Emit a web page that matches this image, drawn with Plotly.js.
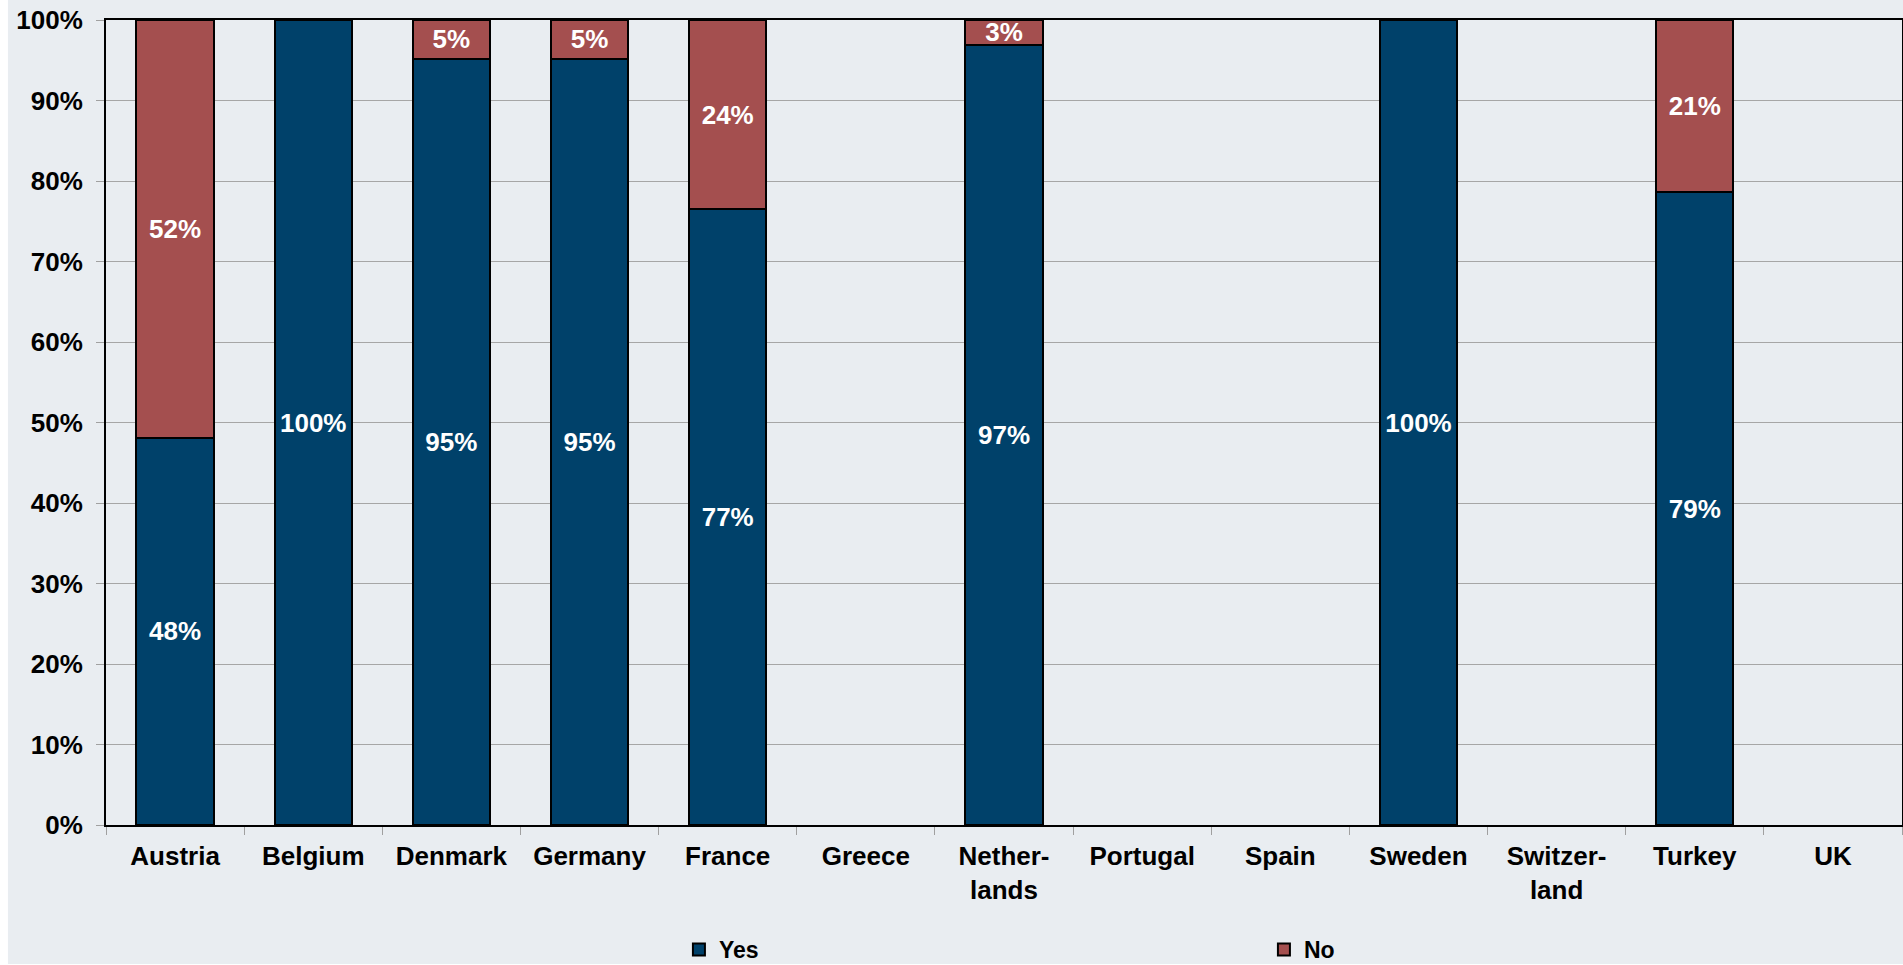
<!DOCTYPE html>
<html><head><meta charset="utf-8">
<script src="https://cdn.plot.ly/plotly-3.0.1.min.js"></script>
<style>html,body{margin:0;padding:0;background:#fff;}#chart{width:1903px;height:965px;}</style>
</head><body><div id="chart"></div>
<script>
const categories = ["Austria","Belgium","Denmark","Germany","France","Greece","Nether-<br>lands","Portugal","Spain","Sweden","Switzer-<br>land","Turkey","UK"];
const yesValues = [48.1, 100, 95.2, 95.2, 76.5, null, 96.9, null, null, 100, null, 78.6, null];
const noValues  = [51.9, null, 4.8, 4.8, 23.5, null, 3.1, null, null, null, null, 21.4, null];
const yesLabels = ["48%","100%","95%","95%","77%","","97%","","","100%","","79%",""];
const noLabels  = ["52%","","5%","5%","24%","","3%","","","","","21%",""];
const yTickVals = [0,10,20,30,40,50,60,70,80,90,100];
const yTickText = ["0%","10%","20%","30%","40%","50%","60%","70%","80%","90%","100%"];

const font = "Liberation Sans, Arial, sans-serif";
const labelFont = {family:font, size:26, color:"#ffffff", weight:"bold"};
const traces = [
  {type:"bar", name:"Yes", x:categories, y:yesValues, text:yesLabels, texttemplate:"%{text}",
   textposition:"inside", insidetextanchor:"middle", textangle:0, constraintext:"none",
   textfont:labelFont, insidetextfont:labelFont,
   marker:{color:"#00416a", line:{color:"#000000", width:2}}, hoverinfo:"skip"},
  {type:"bar", name:"No", x:categories, y:noValues, text:noLabels, texttemplate:"%{text}",
   textposition:"inside", insidetextanchor:"middle", textangle:0, constraintext:"none",
   textfont:labelFont, insidetextfont:labelFont,
   marker:{color:"#a44f4f", line:{color:"#000000", width:2}}, hoverinfo:"skip"}
];
const layout = {
  width:1903, height:965,
  margin:{l:106, r:1, t:20, b:140, pad:0, autoexpand:false},
  paper_bgcolor:"#ffffff", plot_bgcolor:"#e9edf1",
  barmode:"stack", bargap:0.44,
  font:{family:font, size:26, color:"#000000"},
  xaxis:{type:"category", showgrid:false, showline:true, linecolor:"#000000", linewidth:2, mirror:true,
    ticks:"outside", ticklen:8, tickcolor:"#a0a0a0", tickson:"boundaries", ticklabelstandoff:7,
    tickfont:{family:font, size:26, color:"#000000", weight:"bold"}, fixedrange:true},
  yaxis:{range:[0,100], tickvals:yTickVals, ticktext:yTickText, showgrid:true, gridcolor:"#a6a6a6", gridwidth:1,
    showline:true, linecolor:"#000000", linewidth:2, mirror:true, ticks:"outside", ticklen:8, tickcolor:"#a0a0a0",
    ticklabelstandoff:8,
    tickfont:{family:font, size:26, color:"#000000", weight:"bold"}, zeroline:false, fixedrange:true},
  showlegend:true,
  legend:{orientation:"h", x:0.319, xanchor:"left", y:-0.128, yanchor:"top", bgcolor:"rgba(0,0,0,0)",
    entrywidth:540, entrywidthmode:"pixels", itemwidth:30, traceorder:"normal",
    font:{family:font, size:23, color:"#000000", weight:"bold"}},
  shapes:[{type:"rect", xref:"paper", yref:"paper", x0:-0.0546, x1:1.001, y0:-0.1727, y1:1.03,
    fillcolor:"#e9edf1", line:{width:0}, layer:"below"}]
};
Plotly.newPlot("chart", traces, layout, {staticPlot:true, displayModeBar:false});
</script></body></html>
